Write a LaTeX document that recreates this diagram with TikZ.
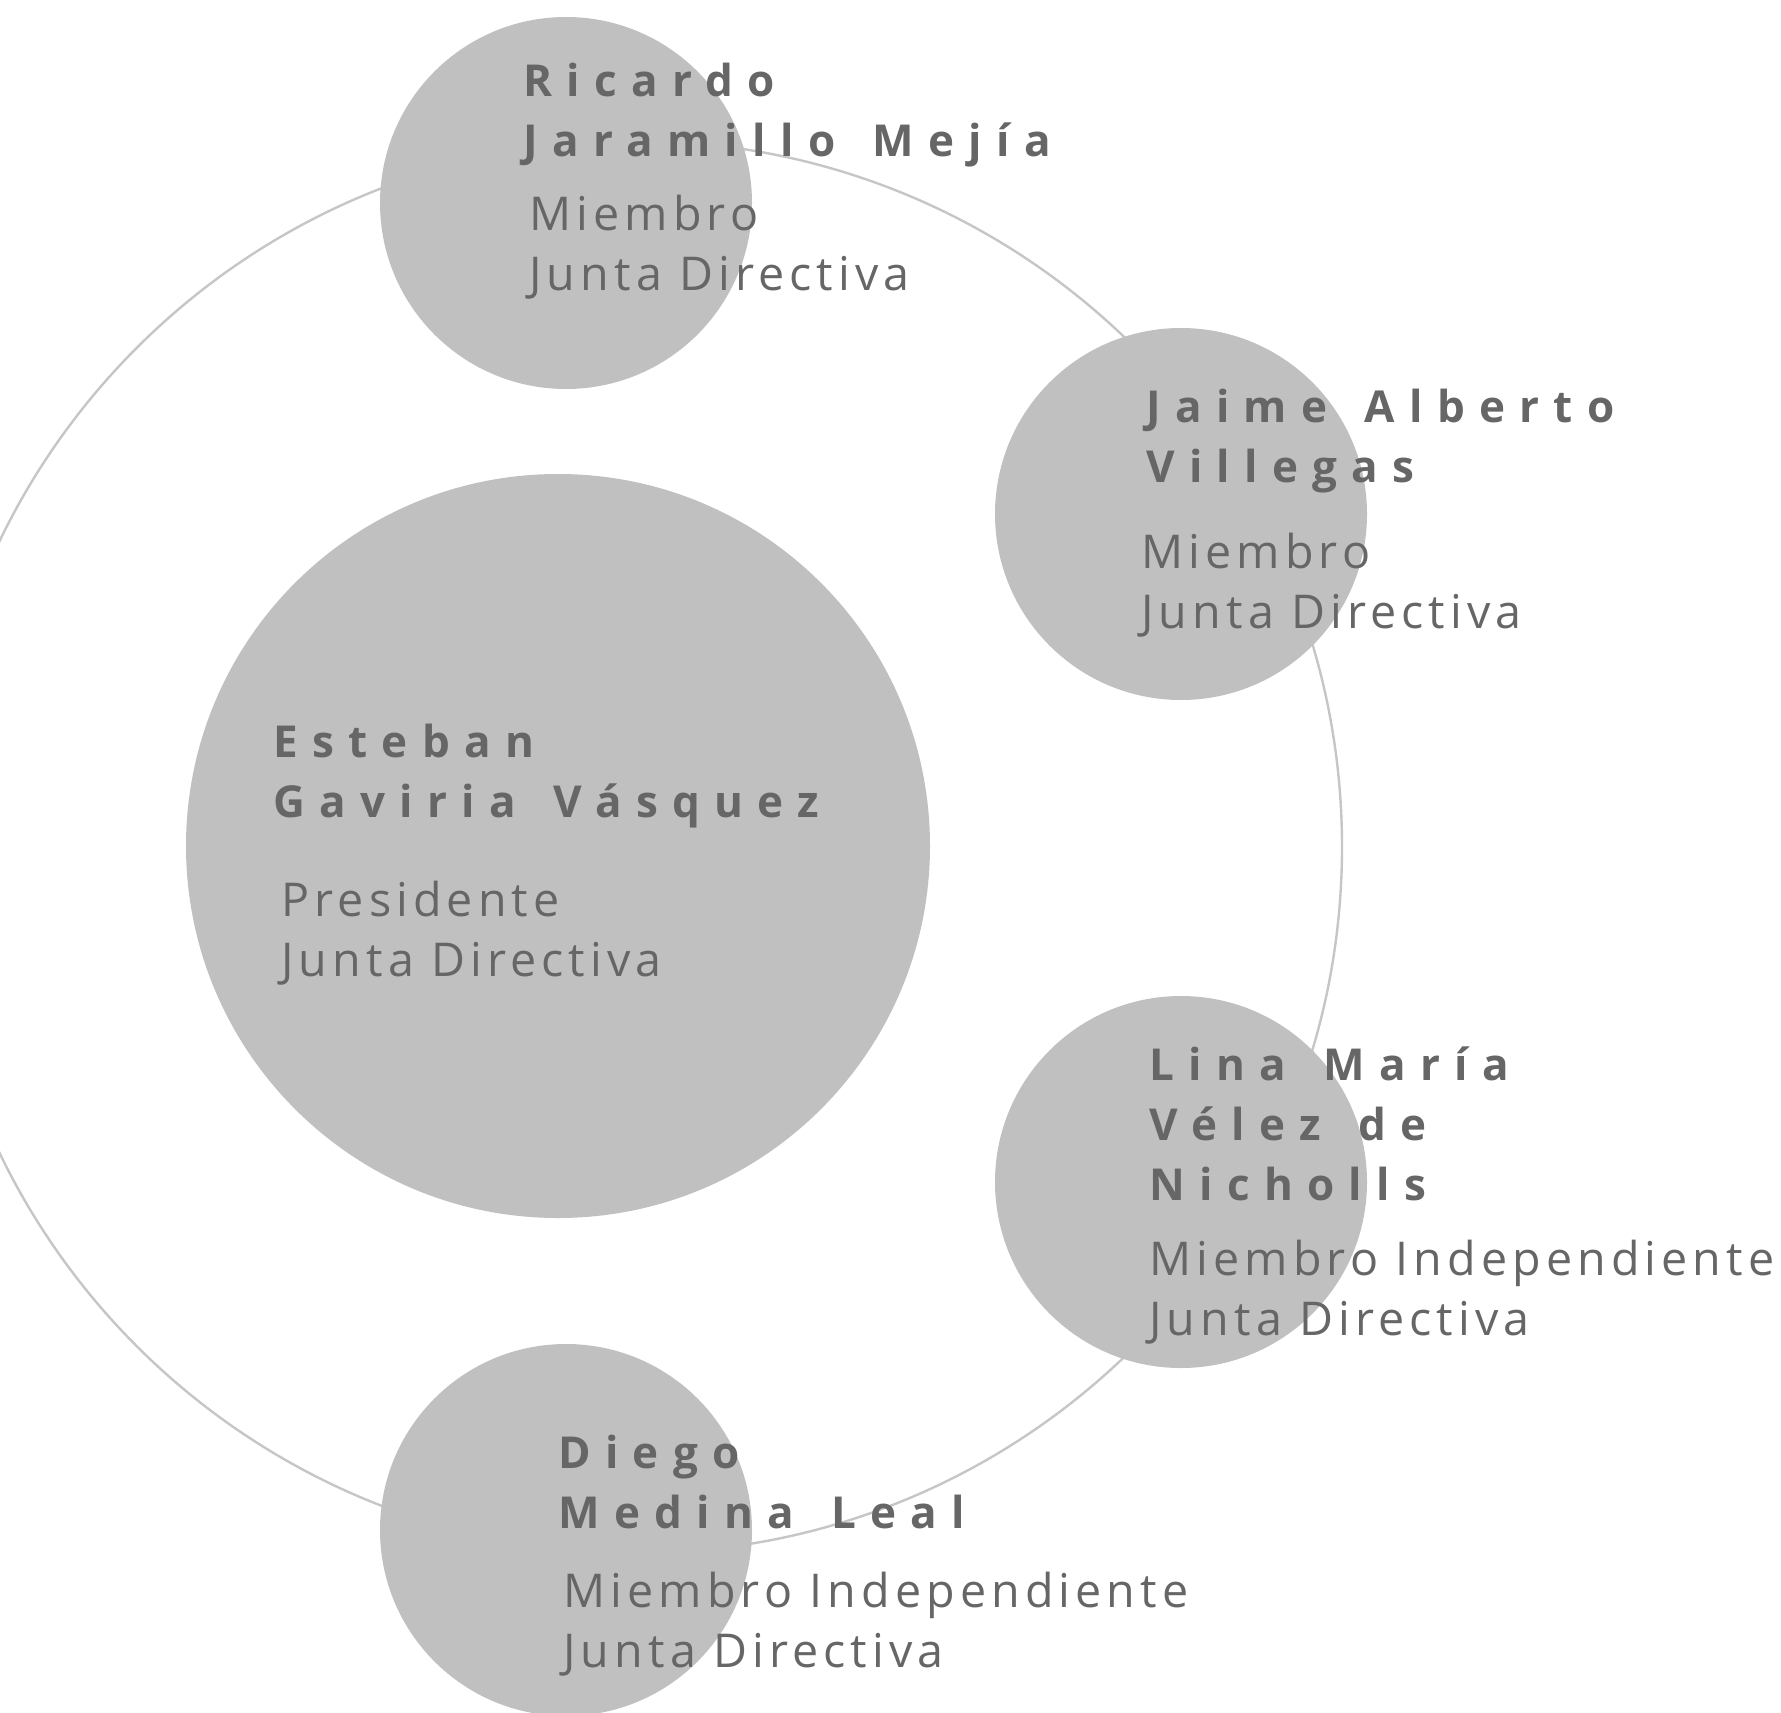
\documentclass[tikz,border=0pt]{standalone}
\usepackage{fontspec}
\setmainfont{Open Sans}
\newfontfamily\nombrefont[LetterSpace=32.5, WordSpace=1.45]{Open Sans}
\newfontfamily\cargofont[LetterSpace=11]{Open Sans}
\definecolor{asiento}{RGB}{192,192,192}
\definecolor{aro}{RGB}{198,198,198}
\definecolor{letra}{RGB}{102,102,102}
\tikzset{
	miembro/.style={circle, fill=asiento, inner sep=0pt, minimum size=186pt},
	nombre/.style={anchor=base west, inner sep=0pt, align=left, text=letra,
		font=\nombrefont\bfseries\fontsize{22pt}{30pt}\selectfont},
	cargo/.style={anchor=base west, inner sep=0pt, align=left, text=letra,
		font=\cargofont\fontsize{23.3pt}{30pt}\selectfont}
}
\begin{document}
\begin{tikzpicture}[x=0.5pt, y=-0.5pt]
	\useasboundingbox (0,0) rectangle (1781,1712);
	\clip (0,0) rectangle (1781,1712);
	% aro exterior
	\draw[aro, line width=1.2pt] (636,847) circle (353pt);
	% circulos
	\node[miembro, minimum size=372pt] (esteban) at (558,846) {};
	\node[miembro] (ricardo) at (566,203) {};
	\node[miembro] (jaime) at (1181,514) {};
	\node[miembro] (lina) at (1181,1182) {};
	\node[miembro] (diego) at (566,1530) {};
	% textos (anclados en la linea base de la ultima linea)
	\node[nombre] (esteban-n) at (273,817) {Esteban\\Gaviria Vásquez};
	\node[cargo] (esteban-c) at (281,976) {Presidente\\Junta Directiva};
	\node[nombre] (ricardo-n) at (523,157) {Ricardo\\Jaramillo Mejía};
	\node[cargo] (ricardo-c) at (529,290) {Miembro\\Junta Directiva};
	\node[nombre] (jaime-n) at (1146,482) {Jaime Alberto\\Villegas};
	\node[cargo] (jaime-c) at (1141,628) {Miembro\\Junta Directiva};
	\node[nombre] (lina-n) at (1149,1200) {Lina María\\Vélez de\\Nicholls};
	\node[cargo] (lina-c) at (1149,1335) {Miembro Independiente\\Junta Directiva};
	\node[nombre] (diego-n) at (558,1528) {Diego\\Medina Leal};
	\node[cargo] (diego-c) at (563,1667) {Miembro Independiente\\Junta Directiva};
\end{tikzpicture}
\end{document}
